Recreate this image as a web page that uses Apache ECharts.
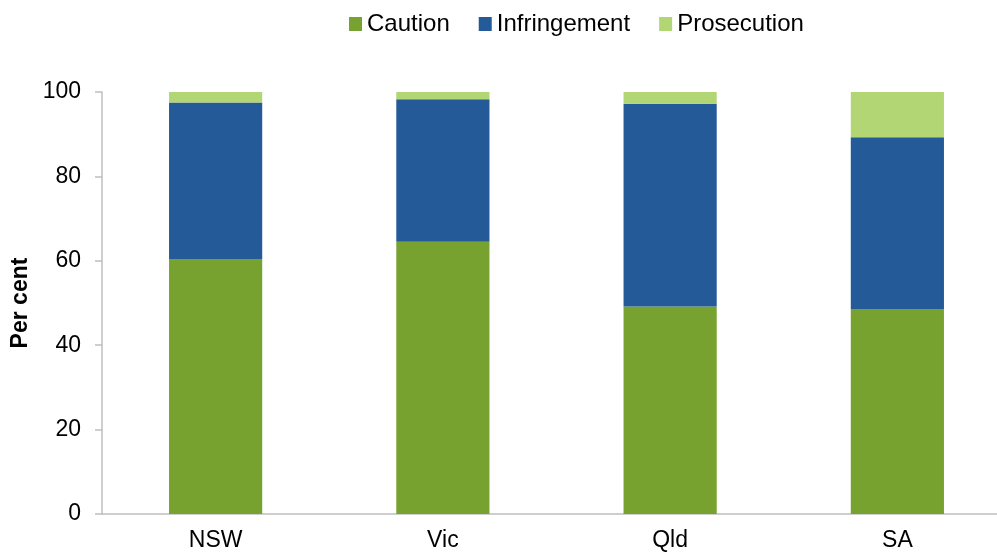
<!DOCTYPE html>
<html>
<head>
<meta charset="utf-8">
<script src="https://cdn.jsdelivr.net/npm/echarts@6/dist/echarts.min.js"></script>
<style>
  html, body { margin: 0; padding: 0; background: #fff; }
  #main { width: 997px; height: 553px; }
</style>
</head>
<body>
<div id="main"></div>
<script type="text/javascript">
    var states = ['NSW', 'Vic', 'Qld', 'SA'];
    var caution = [60.4, 64.5, 49.2, 48.6];
    var infringement = [37.1, 33.8, 48.0, 40.7];
    var prosecution = [2.5, 1.7, 2.8, 10.7];
    var yTicks = [0, 20, 40, 60, 80, 100];

    var myChart = echarts.init(document.getElementById('main'));

    var font = 'Liberation Sans, Arial, sans-serif';

    option = {
        textStyle: { fontFamily: font },
        legend: {
            left: 344,
            top: 7,
            itemWidth: 13,
            itemHeight: 14,
            itemGap: 29,
            icon: 'rect',
            textStyle: { fontSize: 24, color: '#000', fontFamily: font },
            data: ['Caution', 'Infringement', 'Prosecution']
        },
        grid: { left: 102, right: -14, top: 92, bottom: 39, outerBoundsMode: 'none', containLabel: false },
        xAxis: {
            type: 'category',
            data: states,
            axisLine: { lineStyle: { color: '#bfbfbf', width: 1.5 } },
            axisTick: { show: false },
            axisLabel: { fontSize: 23, color: '#000', margin: 15 }
        },
        yAxis: {
            type: 'value',
            min: yTicks[0],
            max: yTicks[yTicks.length - 1],
            interval: 20,
            name: 'Per cent',
            nameLocation: 'middle',
            nameGap: 66,
            nameTextStyle: { fontSize: 23, fontWeight: 'bold', color: '#000' },
            axisLine: { show: true, lineStyle: { color: '#bfbfbf', width: 1.5 } },
            axisTick: { show: true, length: 7, lineStyle: { color: '#bfbfbf', width: 1.5 } },
            splitLine: { show: false },
            axisLabel: { fontSize: 23, color: '#000', margin: 21 }
        },
        series: [
            { name: 'Caution', type: 'bar', stack: 'a', data: caution, barWidth: '41%', itemStyle: { color: '#77A22F' } },
            { name: 'Infringement', type: 'bar', stack: 'a', data: infringement, itemStyle: { color: '#255A99' } },
            { name: 'Prosecution', type: 'bar', stack: 'a', data: prosecution, itemStyle: { color: '#B3D675' } }
        ]
    };

    myChart.setOption(option);
</script>
</body>
</html>
